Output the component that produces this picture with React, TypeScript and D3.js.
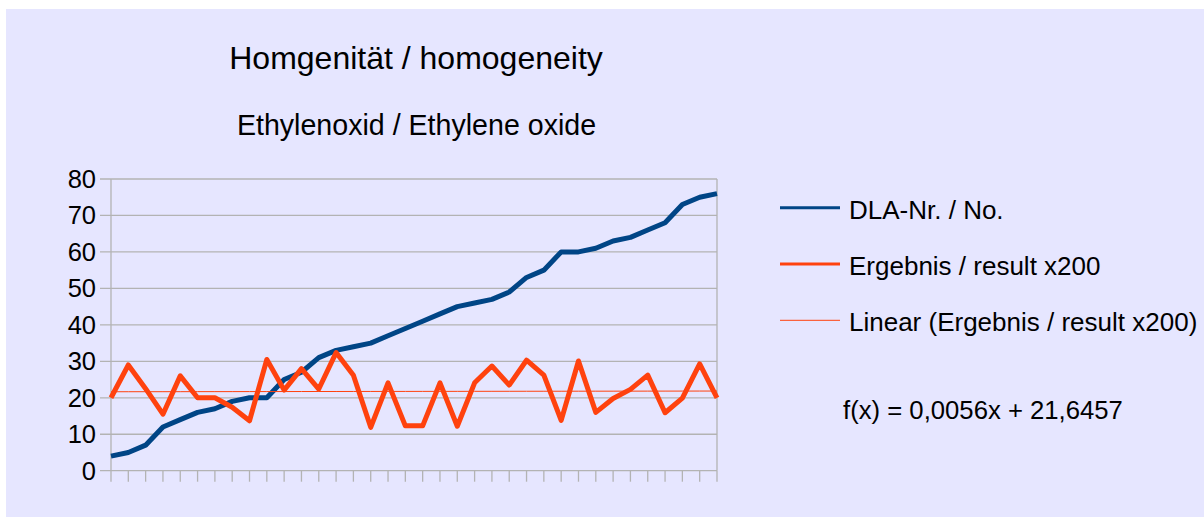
import React from 'react';
import * as d3 from 'd3';

// DLA number per sample (sorted)
const dlaNo = [4, 5, 7, 12, 14, 16, 17, 19, 20, 20, 25, 27, 31, 33, 34, 35, 37, 39, 41, 43, 45, 46, 47, 49, 53, 55, 60, 60, 61, 63, 64, 66, 68, 73, 75, 76];
// result x200
const result = [20, 29, 22.5, 15.5, 26, 20, 20, 17.4, 13.7, 30.5, 22.1, 28, 22.4, 32.4, 26.2, 11.9, 24.1, 12.3, 12.3, 24.1, 12.2, 24.1, 28.7, 23.5, 30.3, 26.2, 13.8, 30.1, 16, 19.8, 22.3, 26.2, 15.9, 19.9, 29.3, 20];
const yTicks = [0, 10, 20, 30, 40, 50, 60, 70, 80];
const trendSlope = 0.0056;
const trendIntercept = 21.6457;
const legendLabels = ['DLA-Nr. / No.', 'Ergebnis / result x200', 'Linear (Ergebnis / result x200)'];

const BLUE = '#004586';
const ORANGE = '#ff420e';
const GRID = '#b3b3b3';
const FONT = '"Liberation Sans", Arial, sans-serif';

const App: React.FC = () => {
    const idx = d3.range(1, dlaNo.length + 1);
    const x = d3.scalePoint<number>().domain(idx).range([111, 717]);
    const y = d3.scaleLinear().domain([0, 80]).range([470.7, 179]);

    const line = d3.line<number>()
        .x((_, i) => x(i + 1) as number)
        .y(d => y(d));

    // trend line from the fitted equation shown in the chart
    const trend = idx.map(i => trendSlope * i + trendIntercept);

    return (
        <svg width={1204} height={517} style={{ position: 'absolute', left: 0, top: 0 }} fontFamily={FONT}>
            <rect x={6} y={9} width={1198} height={508} fill="#e6e6ff" />

            <text x={416} y={69} textAnchor="middle" fontSize={32} fill="#000">Homgenität / homogeneity</text>
            <text x={416.5} y={135} textAnchor="middle" fontSize={28.6} fill="#000">Ethylenoxid / Ethylene oxide</text>

            {/* grid + y axis */}
            {yTicks.map(t => (
                <g key={t}>
                    <line x1={100} x2={717} y1={y(t)} y2={y(t)} stroke={GRID} strokeWidth={1.3} />
                    <text x={96} y={y(t) + 8.8} textAnchor="end" fontSize={25.5} fill="#000">{t}</text>
                </g>
            ))}
            <line x1={111} x2={111} y1={y(80)} y2={y(0)} stroke={GRID} strokeWidth={1.3} />
            <line x1={717} x2={717} y1={y(80)} y2={y(0)} stroke={GRID} strokeWidth={1.3} />
            {idx.map(i => (
                <line key={i} x1={x(i)} x2={x(i)} y1={y(0)} y2={y(0) + 11} stroke={GRID} strokeWidth={1.3} />
            ))}

            <path d={line(dlaNo) || ''} fill="none" stroke={BLUE} strokeWidth={5} strokeLinejoin="round" />
            <path d={line(result) || ''} fill="none" stroke={ORANGE} strokeWidth={5} strokeLinejoin="round" />
            <path d={line(trend) || ''} fill="none" stroke={ORANGE} strokeWidth={1} />

            {/* legend */}
            {legendLabels.map((l, i) => (
                <g key={l} transform={`translate(780, ${207.7 + i * 56.3})`}>
                    <line x1={0} x2={60} y1={0} y2={0} stroke={i === 0 ? BLUE : ORANGE} strokeWidth={i === 2 ? 1 : 3} />
                    <text x={69} y={10.8} fontSize={26} fill="#000">{l}</text>
                </g>
            ))}
            <text x={843} y={419} fontSize={25.7} fill="#000">f(x) = 0,0056x + 21,6457</text>
        </svg>
    );
};

export default App;
